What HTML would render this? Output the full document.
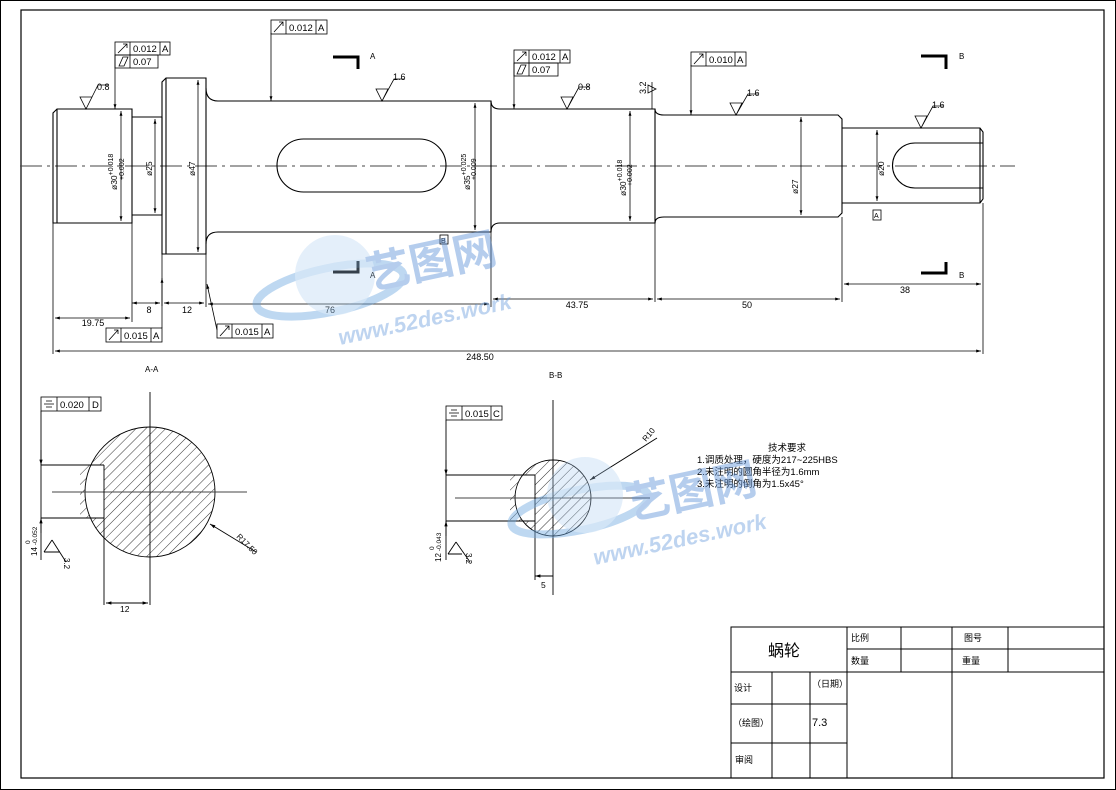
<!DOCTYPE html>
<html><head><meta charset="utf-8"><style>
html,body{margin:0;padding:0;background:#fff}
svg{display:block}
text{font-family:"Liberation Sans","Noto Sans CJK SC",sans-serif;fill:#000}
</style></head><body>
<svg width="1116" height="790" viewBox="0 0 1116 790" xmlns="http://www.w3.org/2000/svg">
<defs>
<pattern id="h" width="7" height="7" patternUnits="userSpaceOnUse" patternTransform="rotate(45)">
<line x1="0" y1="0" x2="0" y2="7" stroke="#000" stroke-width="0.8"/></pattern>
<marker id="a" viewBox="0 0 10 10" refX="10" refY="5" markerWidth="8" markerHeight="6" orient="auto-start-reverse"><path d="M0,2 L10,5 L0,8z" fill="#000"/></marker>
</defs>
<rect x="0.5" y="0.5" width="1115" height="789" fill="#fff" stroke="#000"/>
<rect x="21" y="10" width="1083" height="768" fill="none" stroke="#000" stroke-width="1.2"/>

<g fill="none" stroke="#000" stroke-width="1.1">
<line x1="20" y1="166" x2="1015" y2="166" stroke="#444" stroke-width="0.9" stroke-dasharray="22,5,3,5"/>
<path d="M57,109 L132,109 L132,223 L53,223 L53,113 Z"/>
<line x1="57" y1="109" x2="57" y2="223"/>
<path d="M132,117 L162,117 M132,215 L162,215"/>
<path d="M166,78 L206,78 L206,254 L162,254 L162,82 Z"/>
<line x1="166" y1="78" x2="166" y2="254"/>
<line x1="162" y1="117" x2="162" y2="215"/>
<path d="M206,88 Q206,101 218,101 L491,101 L491,232 L218,232 Q206,232 206,244"/>
<rect x="277" y="139" width="169" height="53" rx="26.5"/>
<path d="M491,101 Q491,109 500,109 L655,109 L655,223 L500,223 Q491,223 491,232"/>
<path d="M655,109 Q655,115 664,115 L838,115 L842,119 L842,213 L838,217 L664,217 Q655,217 655,223"/>
<path d="M842,128 L980,128 L983,132 L983,199 L980,203 L842,203"/>
<line x1="980" y1="128" x2="980" y2="203"/>
<path d="M983,143 L915,143 A22.5,22.5 0 0 0 915,188 L983,188"/>
</g>

<g stroke="#000" stroke-width="0.8" fill="none">
<line x1="53" y1="223" x2="53" y2="354"/>
<line x1="132" y1="223" x2="132" y2="322"/>
<line x1="162" y1="254" x2="162" y2="306"/>
<line x1="206" y1="254" x2="206" y2="307"/>
<line x1="491" y1="232" x2="491" y2="307"/>
<line x1="655" y1="223" x2="655" y2="302"/>
<line x1="842" y1="217" x2="842" y2="302"/>
<line x1="983" y1="203" x2="983" y2="354"/>
<line x1="55" y1="318" x2="130" y2="318" marker-start="url(#a)" marker-end="url(#a)"/>
<line x1="132" y1="303" x2="160" y2="303" marker-start="url(#a)" marker-end="url(#a)"/>
<line x1="164" y1="303" x2="204" y2="303" marker-start="url(#a)" marker-end="url(#a)"/>
<line x1="208" y1="304" x2="489" y2="304" marker-start="url(#a)" marker-end="url(#a)"/>
<line x1="493" y1="299" x2="653" y2="299" marker-start="url(#a)" marker-end="url(#a)"/>
<line x1="657" y1="299" x2="840" y2="299" marker-start="url(#a)" marker-end="url(#a)"/>
<line x1="844" y1="284" x2="981" y2="284" marker-start="url(#a)" marker-end="url(#a)"/>
<line x1="55" y1="351" x2="981" y2="351" marker-start="url(#a)" marker-end="url(#a)"/>
<line x1="121" y1="111" x2="121" y2="221" marker-start="url(#a)" marker-end="url(#a)"/>
<line x1="155" y1="119" x2="155" y2="213" marker-start="url(#a)" marker-end="url(#a)"/>
<line x1="198" y1="80" x2="198" y2="252" marker-start="url(#a)" marker-end="url(#a)"/>
<line x1="475" y1="103" x2="475" y2="230" marker-start="url(#a)" marker-end="url(#a)"/>
<line x1="630" y1="111" x2="630" y2="221" marker-start="url(#a)" marker-end="url(#a)"/>
<line x1="801" y1="117" x2="801" y2="215" marker-start="url(#a)" marker-end="url(#a)"/>
<line x1="877" y1="130" x2="877" y2="201" marker-start="url(#a)" marker-end="url(#a)"/>
<line x1="115" y1="55" x2="115" y2="109" marker-end="url(#a)"/>
<line x1="271" y1="33" x2="271" y2="101" marker-end="url(#a)"/>
<line x1="514" y1="63" x2="514" y2="109" marker-end="url(#a)"/>
<line x1="691" y1="65" x2="691" y2="115" marker-end="url(#a)"/>
<line x1="162" y1="328" x2="162" y2="278" marker-end="url(#a)"/>
<line x1="217" y1="330" x2="207" y2="284" marker-end="url(#a)"/>
<line x1="652" y1="82" x2="652" y2="109"/>
</g>

<g stroke="#000" stroke-width="0.8" fill="none">
<path d="M80,97 L92,97 L86,109 Z M86,109 L98,85 L108,85"/>
<path d="M376,89 L388,89 L382,101 Z M382,101 L394,79 L404,79"/>
<path d="M561,97 L573,97 L567,109 Z M567,109 L579,87 L589,87"/>
<path d="M730,103 L742,103 L736,115 Z M736,115 L748,94 L758,94"/>
<path d="M915,116 L927,116 L921,128 Z M921,128 L933,106 L943,106"/>
<path d="M648,85 L656,89 L648,93 Z"/>
</g>
<g font-size="9">
<text x="97" y="90">0.8</text><text x="393" y="80">1.6</text>
<text x="578" y="90">0.8</text><text x="747" y="96">1.6</text><text x="932" y="108">1.6</text>
<text transform="translate(646,94) rotate(-90)">3.2</text>
</g>
<g font-size="9" text-anchor="middle">
<text x="93" y="326">19.75</text><text x="149" y="313">8</text><text x="187" y="313">12</text>
<text x="330" y="313">76</text><text x="577" y="308">43.75</text><text x="747" y="308">50</text>
<text x="905" y="293">38</text><text x="480" y="360">248.50</text>
</g>
<g font-size="8.5">
<text transform="translate(117,190) rotate(-90)">ø30<tspan dy="-4" font-size="7">+0.018</tspan></text>
<text transform="translate(124,180) rotate(-90)" font-size="7">+0.002</text>
<text transform="translate(152,176) rotate(-90)">ø25</text>
<text transform="translate(195,176) rotate(-90)">ø47</text>
<text transform="translate(470,190) rotate(-90)">ø35<tspan dy="-4" font-size="7">+0.025</tspan></text>
<text transform="translate(476,180) rotate(-90)" font-size="7">+0.009</text>
<text transform="translate(626,196) rotate(-90)">ø30<tspan dy="-4" font-size="7">+0.018</tspan></text>
<text transform="translate(632,186) rotate(-90)" font-size="7">+0.002</text>
<text transform="translate(798,194) rotate(-90)">ø27</text>
<text transform="translate(884,176) rotate(-90)">ø20</text>
</g>

<g stroke="#000" stroke-width="0.8" fill="none">
<rect x="115" y="42" width="55" height="13"/><line x1="130" y1="42" x2="130" y2="55"/><line x1="160" y1="42" x2="160" y2="55"/>
<rect x="115" y="55" width="43" height="13"/><line x1="130" y1="55" x2="130" y2="68"/>
<rect x="271" y="20" width="56" height="14"/><line x1="286" y1="20" x2="286" y2="34"/><line x1="316" y1="20" x2="316" y2="34"/>
<rect x="514" y="50" width="56" height="13"/><line x1="529" y1="50" x2="529" y2="63"/><line x1="560" y1="50" x2="560" y2="63"/>
<rect x="514" y="63" width="44" height="13"/><line x1="529" y1="63" x2="529" y2="76"/>
<rect x="691" y="52" width="55" height="14"/><line x1="706" y1="52" x2="706" y2="66"/><line x1="735" y1="52" x2="735" y2="66"/>
<rect x="106" y="328" width="56" height="14"/><line x1="121" y1="328" x2="121" y2="342"/><line x1="151" y1="328" x2="151" y2="342"/>
<rect x="217" y="324" width="56" height="14"/><line x1="232" y1="324" x2="232" y2="338"/><line x1="262" y1="324" x2="262" y2="338"/>
<rect x="41" y="397" width="60" height="14"/><line x1="57" y1="397" x2="57" y2="411"/><line x1="89" y1="397" x2="89" y2="411"/>
<rect x="446" y="406" width="56" height="14"/><line x1="462" y1="406" x2="462" y2="420"/><line x1="491" y1="406" x2="491" y2="420"/>
<path d="M118,53 L127,44 M123,44 L127,44 L127,48 M274,32 L283,22 M279,22 L283,22 L283,26 M517,61 L526,52 M522,52 L526,52 L526,56 M694,64 L703,54 M699,54 L703,54 L703,58 M109,340 L118,330 M114,330 L118,330 L118,334 M220,336 L229,326 M225,326 L229,326 L229,330"/>
<path d="M119,66 L123,57 L128,57 L124,66Z M517,74 L521,65 L526,65 L522,74Z"/>
<path d="M44,404 L54,404 M46,401 L52,401 M46,407 L52,407 M449,413 L459,413 M451,410 L457,410 M451,416 L457,416"/>
<rect x="440" y="235" width="8" height="9"/><rect x="873" y="210" width="8" height="10"/>
</g>
<g font-size="9.5">
<text x="133" y="52">0.012</text><text x="162" y="52">A</text><text x="133" y="65">0.07</text>
<text x="289" y="31">0.012</text><text x="318" y="31">A</text>
<text x="532" y="60">0.012</text><text x="562" y="60">A</text><text x="532" y="73">0.07</text>
<text x="709" y="63">0.010</text><text x="737" y="63">A</text>
<text x="124" y="339">0.015</text><text x="153" y="339">A</text>
<text x="235" y="335">0.015</text><text x="264" y="335">A</text>
<text x="60" y="408">0.020</text><text x="92" y="408">D</text>
<text x="465" y="417">0.015</text><text x="493" y="417">C</text>
<text x="441" y="243" font-size="7">B</text><text x="874" y="218" font-size="7">A</text>
</g>

<g stroke="#000" stroke-width="3" fill="none">
<path d="M333,57 L358,57 L358,69 M333,272 L358,272 L358,261 M921,56 L946,56 L946,69 M921,273 L946,273 L946,262"/>
</g>
<g font-size="8"><text x="370" y="59">A</text><text x="370" y="278">A</text><text x="959" y="59">B</text><text x="959" y="278">B</text>
<text x="145" y="372">A-A</text><text x="549" y="378">B-B</text></g>

<!-- Section A-A -->
<g stroke="#000" stroke-width="0.9">
<path d="M85,492 A65,65 0 1 0 215,492 A65,65 0 1 0 85,492 Z M80,465 L104,465 L104,518 L80,518 Z" fill="url(#h)" fill-rule="evenodd" stroke="none"/>
<circle cx="150" cy="492" r="65" fill="none"/>
<line x1="150" y1="392" x2="150" y2="605"/>
<line x1="52" y1="492" x2="247" y2="492" stroke="#444"/>
<line x1="41" y1="465" x2="104" y2="465"/><line x1="41" y1="518" x2="104" y2="518"/>
<line x1="104" y1="465" x2="104" y2="605"/>
<line x1="41" y1="411" x2="41" y2="560"/>
<line x1="41" y1="450" x2="41" y2="465" marker-end="url(#a)"/>
<line x1="41" y1="533" x2="41" y2="518" marker-end="url(#a)"/>
<line x1="106" y1="603" x2="148" y2="603" marker-start="url(#a)" marker-end="url(#a)"/>
<line x1="256" y1="552" x2="210" y2="524" marker-end="url(#a)"/>
<path d="M44,552 L52,540 M44,552 L60,552 M52,540 L66,562" fill="none"/>
</g>
<text x="120" y="612" font-size="8.5">12</text>
<text transform="translate(236,537) rotate(45)" font-size="8">R17.50</text>
<text transform="translate(37,556) rotate(-90)" font-size="8">14<tspan dx="2" font-size="6.5">-0.052</tspan></text>
<text transform="translate(30,544) rotate(-90)" font-size="6.5">0</text>
<text transform="translate(64,558) rotate(90)" font-size="8">3.2</text>

<!-- Section B-B -->
<g stroke="#000" stroke-width="0.9">
<path d="M515,498 A38,38 0 1 0 591,498 A38,38 0 1 0 515,498 Z M510,475 L535,475 L535,521 L510,521 Z" fill="url(#h)" fill-rule="evenodd" stroke="none"/>
<circle cx="553" cy="498" r="38" fill="none"/>
<line x1="553" y1="400" x2="553" y2="595"/>
<line x1="455" y1="498" x2="650" y2="498" stroke="#444"/>
<line x1="446" y1="475" x2="535" y2="475"/><line x1="446" y1="521" x2="535" y2="521"/>
<line x1="535" y1="475" x2="535" y2="580"/>
<line x1="446" y1="420" x2="446" y2="560"/>
<line x1="446" y1="460" x2="446" y2="475" marker-end="url(#a)"/>
<line x1="446" y1="536" x2="446" y2="521" marker-end="url(#a)"/>
<line x1="535" y1="576" x2="553" y2="576" marker-start="url(#a)"/>
<line x1="657" y1="438" x2="590" y2="480" marker-end="url(#a)"/>
<path d="M448,554 L456,542 M448,554 L462,554 M456,542 L470,562" fill="none"/>
</g>
<text x="541" y="588" font-size="8.5">5</text>
<text transform="translate(646,442) rotate(-50)" font-size="8">R10</text>
<text transform="translate(441,562) rotate(-90)" font-size="8">12<tspan dx="2" font-size="6.5">-0.043</tspan></text>
<text transform="translate(434,550) rotate(-90)" font-size="6.5">0</text>
<text transform="translate(466,553) rotate(90)" font-size="8">3.2</text>

<g font-size="9.5"><text x="768" y="451">技术要求</text>
<text x="697" y="463">1.调质处理，硬度为217~225HBS</text>
<text x="697" y="475">2.未注明的圆角半径为1.6mm</text>
<text x="697" y="487">3.未注明的倒角为1.5x45°</text></g>

<g opacity="0.45">
<ellipse cx="330" cy="290" rx="75" ry="22" fill="none" stroke="#6fa8e0" stroke-width="8" transform="rotate(-12 330 290)"/>
<circle cx="335" cy="275" r="40" fill="#a9cdf0" opacity="0.7"/>
<text x="370" y="290" font-size="44" font-weight="bold" style="fill:#5b8fd6" transform="rotate(-12 370 290)">艺图网</text>
<text x="340" y="345" font-size="22" font-weight="bold" font-style="italic" style="fill:#6fa0dd" transform="rotate(-12 340 345)">www.52des.work</text>
<ellipse cx="580" cy="510" rx="70" ry="20" fill="none" stroke="#6fa8e0" stroke-width="8" transform="rotate(-12 580 510)"/>
<circle cx="585" cy="495" r="38" fill="#a9cdf0" opacity="0.7"/>
<text x="630" y="520" font-size="44" font-weight="bold" style="fill:#5b8fd6" transform="rotate(-12 630 520)">艺图网</text>
<text x="595" y="565" font-size="22" font-weight="bold" font-style="italic" style="fill:#6fa0dd" transform="rotate(-12 595 565)">www.52des.work</text>
</g>

<g stroke="#000" stroke-width="1" fill="none">
<rect x="731" y="627" width="373" height="151"/>
<line x1="731" y1="672" x2="1104" y2="672"/>
<line x1="847" y1="649" x2="1104" y2="649"/>
<line x1="847" y1="627" x2="847" y2="778"/>
<line x1="901" y1="627" x2="901" y2="672"/>
<line x1="952" y1="627" x2="952" y2="778"/>
<line x1="1008" y1="627" x2="1008" y2="672"/>
<line x1="731" y1="704" x2="847" y2="704"/>
<line x1="731" y1="743" x2="847" y2="743"/>
<line x1="772" y1="672" x2="772" y2="778"/>
<line x1="810" y1="672" x2="810" y2="778"/>
</g>
<g font-size="9">
<text x="768" y="656" font-size="16">蜗轮</text>
<text x="851" y="641">比例</text><text x="964" y="641">图号</text>
<text x="851" y="664">数量</text><text x="962" y="664">重量</text>
<text x="734" y="691">设计</text><text x="812" y="687">（日期）</text>
<text x="733" y="726">（绘图）</text><text x="812" y="726" font-size="11">7.3</text>
<text x="735" y="763">审阅</text>
</g>
</svg>
</body></html>
